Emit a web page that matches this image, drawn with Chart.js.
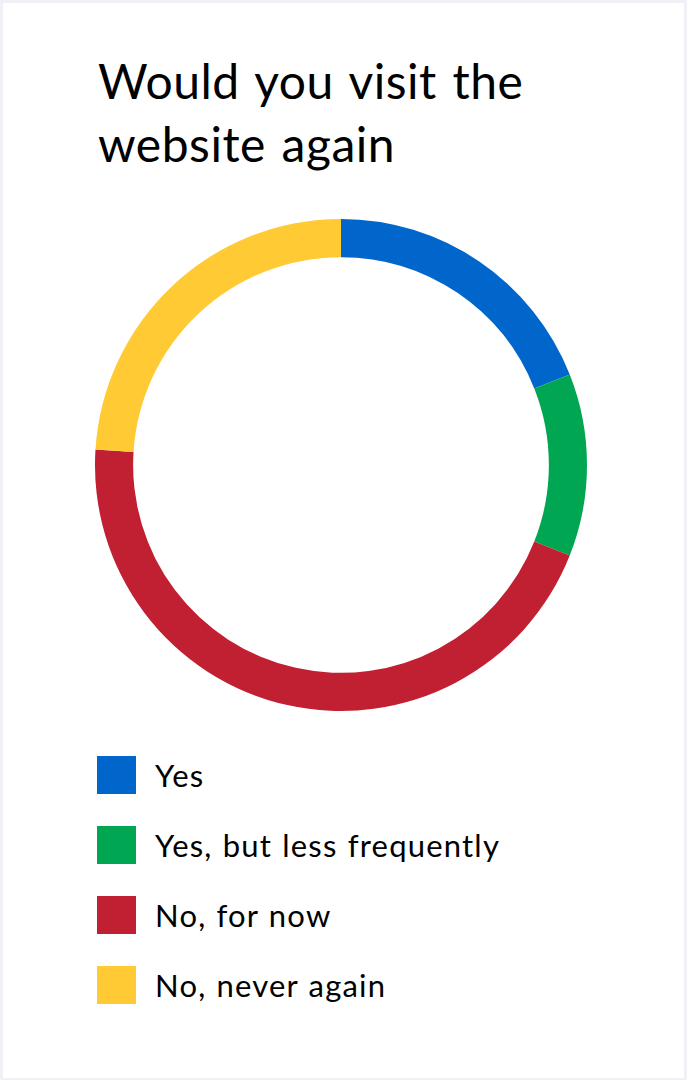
<!DOCTYPE html>
<html>
<head>
<meta charset="utf-8">
<script src="https://cdn.jsdelivr.net/npm/chart.js@4/dist/chart.umd.min.js"></script>
<style>
  html, body { margin: 0; padding: 0; }
  body { width: 687px; height: 1080px; background: #eff1f6; position: relative; overflow: hidden; }
  .card { position: absolute; left: 3px; top: 3px; width: 681px; height: 1075px; background: #fff; }
  .title { position: absolute; left: 95px; top: 46px; font-family: Lato, sans-serif; font-size: 48px; line-height: 63px; letter-spacing: 0.5px; word-spacing: 3px; color: #000; margin: 0; font-weight: 400; }
  .chart-box { position: absolute; left: 92px; top: 215px; width: 492px; height: 494px; }
  .legend { position: absolute; left: 94px; top: 753px; margin: 0; padding: 0; list-style: none; }
  .legend li { height: 70px; display: flex; align-items: flex-start; font-family: Lato, sans-serif; font-size: 31px; letter-spacing: 1.2px; word-spacing: 1px; color: #000; }
  .legend .sw { width: 39px; height: 38px; margin-right: 19px; flex: none; }
  .legend .lbl { line-height: 38px; }
</style>
</head>
<body>
<div class="card">
  <h1 class="title">Would you visit the<br>website again</h1>
  <div class="chart-box"><canvas id="chart"></canvas></div>
  <ul class="legend" id="legend"></ul>
</div>
<script>
const labels = ['Yes', 'Yes, but less frequently', 'No, for now', 'No, never again'];
const values = [19, 12, 45, 24];
const colors = ['#0066cc', '#00a651', '#c11f32', '#ffca33'];

const ctx = document.getElementById('chart').getContext('2d');
new Chart(ctx, {
    type: 'doughnut',
    data: {
        labels: labels,
        datasets: [{
            data: values,
            backgroundColor: colors,
            borderWidth: 0
        }]
    },
    options: {
        responsive: true,
        maintainAspectRatio: false,
        animation: false,
        cutout: '84.5%',
        layout: { padding: 0 },
        plugins: {
            legend: { display: false },
            tooltip: { enabled: false }
        }
    }
});

// legend built from the same arrays
const legendEl = document.getElementById('legend');
labels.forEach((label, i) => {
    const li = document.createElement('li');
    li.innerHTML = '<span class="sw" style="background:' + colors[i] + '"></span><span class="lbl">' + label + '</span>';
    legendEl.appendChild(li);
});
</script>
</body>
</html>
